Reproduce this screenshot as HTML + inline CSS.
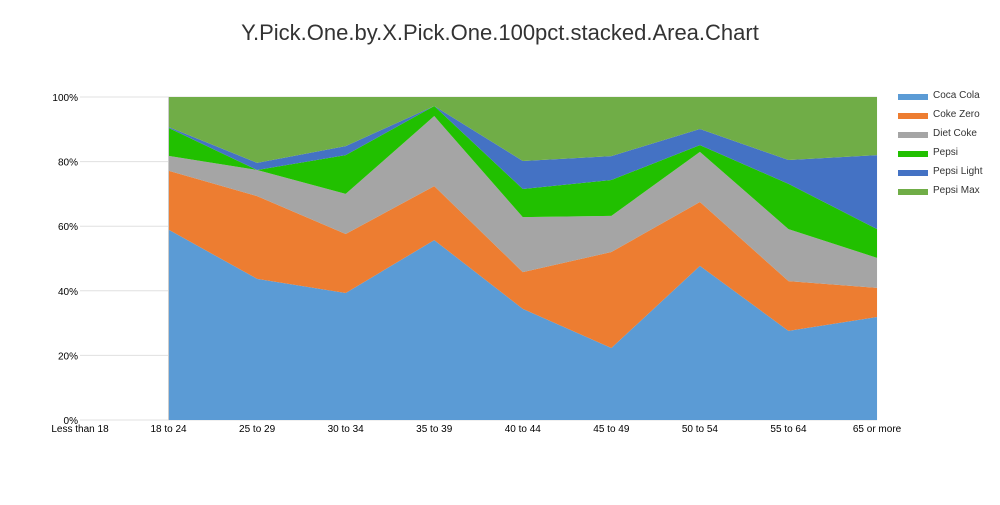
<!DOCTYPE html>
<html><head><meta charset="utf-8"><style>
body{margin:0;background:#fff;font-family:"Liberation Sans",sans-serif}
svg text{font-family:"Liberation Sans",sans-serif}
</style></head><body>
<svg id="chart" width="1000" height="500">
<text x="500" y="40" text-anchor="middle" font-size="22" fill="#333">Y.Pick.One.by.X.Pick.One.100pct.stacked.Area.Chart</text>
<g id="grid"></g><g id="areas"></g><g id="axes"></g><g id="legend"></g>
</svg>
<script>
const categories=["Less than 18","18 to 24","25 to 29","30 to 34","35 to 39","40 to 44","45 to 49","50 to 54","55 to 64","65 or more"];
const seriesNames=["Coca Cola","Coke Zero","Diet Coke","Pepsi","Pepsi Light","Pepsi Max"];
const seriesColors=["#5b9bd5","#ed7d31","#a5a5a5","#21c000","#4472c4","#70ad47"];
const cocaCola=[null,59.1,43.7,39.3,55.7,34.4,22.3,47.7,27.6,31.9];
const cokeZero=[null,18.3,25.6,18.3,16.7,11.4,29.7,19.8,15.4,9.0];
const dietCoke=[null,4.6,8.1,12.4,21.7,17.0,11.2,15.5,16.1,9.3];
const pepsi=[null,8.7,0.0,12.0,3.1,8.7,11.1,2.1,14.0,8.9];
const pepsiLight=[null,0.3,2.2,2.8,0.0,8.7,7.4,5.0,7.4,22.9];
const pepsiMax=[null,9.3,20.4,15.2,2.8,19.8,18.3,9.9,19.5,18.0];
const yTicks=[0,20,40,60,80,100];
const series=[cocaCola,cokeZero,dietCoke,pepsi,pepsiLight,pepsiMax];
const NS="http://www.w3.org/2000/svg";
const x0=80,dx=88.56,yb=420,yt=97;
const X=i=>x0+i*dx;
const Y=v=>yb-(v/100)*(yb-yt);
function mk(tag,attrs,parent){const e=document.createElementNS(NS,tag);for(const k in attrs)e.setAttribute(k,attrs[k]);parent.appendChild(e);return e;}
const grid=document.getElementById('grid'),areas=document.getElementById('areas'),axes=document.getElementById('axes'),legend=document.getElementById('legend');
yTicks.forEach(t=>{
  const l=mk('line',{x1:80,x2:877,y1:Y(t),y2:Y(t),stroke:'#e0e0e0','stroke-width':1},grid);
  
  
  const tx=mk('text',{x:78,y:Y(t)+4,'text-anchor':'end','font-size':10,fill:'#000'},axes);
  tx.textContent=t+'%';
  
  
});
categories.forEach((c,i)=>{
  const tx=mk('text',{x:X(i),y:432,'text-anchor':'middle','font-size':10,fill:'#000'},axes);
  tx.textContent=c;
  
  
});
const idx=categories.map((c,i)=>i).filter(i=>cocaCola[i]!==null);
const cum=idx.map(()=>0);
series.forEach((s,k)=>{
  const lower=cum.slice();
  idx.forEach((i,j)=>{cum[j]+=s[i];});
  const total=idx.map((i,j)=>series.reduce((a,ss)=>a+ss[i],0));
  let d='';
  idx.forEach((i,j)=>{d+=(j?'L':'M')+X(i)+','+Y(cum[j]/total[j]*100);});
  for(let j=idx.length-1;j>=0;j--)d+='L'+X(idx[j])+','+Y(lower[j]/total[j]*100);
  const p=mk('path',{d:d+'Z',fill:seriesColors[k]},areas);
  
  
});
const ax=mk('line',{x1:168.5,x2:168.5,y1:97,y2:420,stroke:'#ccc','stroke-width':1},axes);


seriesNames.forEach((n,k)=>{
  const r=mk('rect',{x:898,y:94+k*19,width:30,height:6,fill:seriesColors[k]},legend);
  
  
  const t=mk('text',{x:933,y:98+k*19,'font-size':10,fill:'#333'},legend);
  t.textContent=n;
  
  
});
</script>
</body></html>
